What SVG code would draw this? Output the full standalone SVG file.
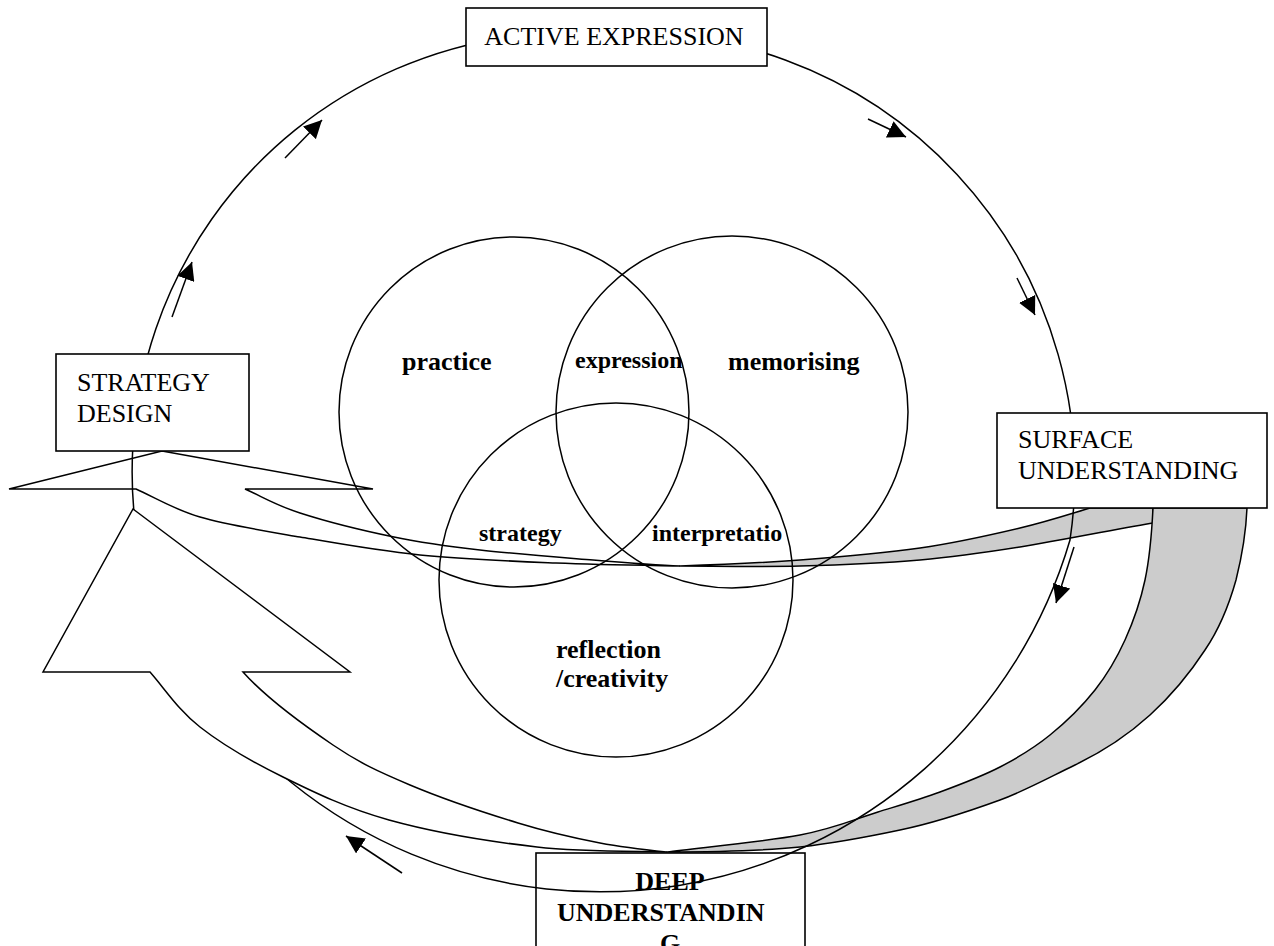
<svg xmlns="http://www.w3.org/2000/svg" width="1274" height="946" viewBox="0 0 1274 946">
<style>
.ln{fill:none;stroke:#000;stroke-width:1.5;stroke-linejoin:miter}
.box{fill:#fff;stroke:#000;stroke-width:1.6}
.grey{fill:#cccccc;stroke:#000;stroke-width:1.5;stroke-linejoin:round}
.white{fill:#fff;stroke:#000;stroke-width:1.5;stroke-linejoin:miter}
.lbl{font-family:"Liberation Serif","Times New Roman",serif;font-size:26px;fill:#000}
.b{font-weight:bold}
.s{font-size:24px}
</style>
<defs>
<marker id="ah" markerUnits="userSpaceOnUse" markerWidth="18" markerHeight="18" refX="18" refY="9" orient="auto" viewBox="0 0 18 18">
<path d="M0,0 L18,9 L0,18 Z" fill="#000"/>
</marker>
</defs>
<rect width="1274" height="946" fill="#fff"/>

<g id="deep-understanding">
<rect class="box" x="536" y="853" width="269" height="110"/>
</g>

<g id="connectors">
<!-- upper curved arrow (to strategy design) -->
<path class="ln" d="M162,451 L373,489 L245,489 C263,497 275.2,505 300,513 C324.8,521 364,530.8 394,537 C424,543.2 446.8,546.2 480,550 C513.2,553.8 559.7,557.3 593,560 C626.3,562.7 655,565 680,566 C655,565.5 599.3,564.8 556,563 C512.7,561.2 462.7,559.3 420,555 C377.3,550.7 336.7,543.3 300,537 C263.3,530.7 227.3,525 200,517 C172.7,509 154,497 136,489 L9,489 Z"/>
<path class="grey" d="M680,566 C710,565 760,563 800,560 C840,557 883.3,553.3 920,548 C956.7,542.7 991.7,534.7 1020,528 C1048.3,521.3 1070,514 1090,508 L1153,508 L1153,523 C1128,527 1058.8,540.8 1020,547 C981.2,553.2 956.7,556.8 920,560 C883.3,563.2 840,565 800,566 C760,567 710,566 680,566 Z"/>
<!-- lower big curved arrow: back side -->
<path class="grey" d="M667,852 C697,848 764.8,841.7 800,835 C835.2,828.3 854.7,819.2 878,812 C901.3,804.8 919.7,799.5 940,792 C960.3,784.5 981.7,776.5 1000,767 C1018.3,757.5 1034.2,747.8 1050,735 C1065.8,722.2 1082.5,705.8 1095,690 C1107.5,674.2 1116.7,658.3 1125,640 C1133.3,621.7 1140.3,602 1145,580 C1149.7,558 1152,528 1153,508 L1247,508 C1246,532 1242,556 1236,580 C1229,605 1220,628 1205,650 C1190,673 1172,695 1150,715 C1128,735 1102,752 1075,765 C1050,777 1027,790 1000,800 C967,812 934,823 900,830 C867,837 835,843 800,847 C761,851 697,852 667,852 Z"/>
</g>

<g id="practice"><circle class="ln" cx="514" cy="412" r="175"/></g>
<g id="memorising"><circle class="ln" cx="732" cy="412" r="176"/></g>
<g id="reflection"><circle class="ln" cx="616" cy="580" r="177"/></g>

<g id="cycle">
<path class="ln" d="M170,649 A438,438 0 0 1 601,34 A442,442 0 0 1 1070,540 A490,490 0 0 1 200,685"/>
<!-- lower big curved arrow: front side with head -->
<path class="white" d="M133,509 L350,672 L243,672 C268,700 305.2,726.2 333,745 C360.8,763.8 379.2,772 410,785 C440.8,798 486.3,813.3 518,823 C549.7,832.7 575.2,838.2 600,843 C624.8,847.8 647,850 667,852 C647,851 583.3,852.3 537,847 C490.7,841.7 431.3,831.7 389,820 C346.7,808.3 314.5,792.5 283,777 C251.5,761.5 222.2,744.5 200,727 C177.8,709.5 165,689 150,672 L43,672 Z"/>
<line class="ln" x1="285" y1="158" x2="322" y2="120" marker-end="url(#ah)"/>
<line class="ln" x1="868" y1="119" x2="906" y2="137" marker-end="url(#ah)"/>
<line class="ln" x1="172" y1="317" x2="192" y2="262" marker-end="url(#ah)"/>
<line class="ln" x1="1017" y1="278" x2="1035" y2="315" marker-end="url(#ah)"/>
<line class="ln" x1="1074" y1="547" x2="1056" y2="603" marker-end="url(#ah)"/>
<line class="ln" x1="402" y1="873" x2="346" y2="836" marker-end="url(#ah)"/>
</g>

<g id="active-expression">
<rect class="box" x="466" y="8" width="301" height="58"/>
<text class="lbl" x="614" y="45" text-anchor="middle">ACTIVE EXPRESSION</text>
</g>
<g id="strategy-design">
<rect class="box" x="56" y="354" width="193" height="97"/>
<text class="lbl" x="77" y="391">STRATEGY</text>
<text class="lbl" x="77" y="422">DESIGN</text>
</g>
<g id="surface-understanding">
<rect class="box" x="997" y="413" width="270" height="95"/>
<text class="lbl" x="1018" y="448">SURFACE</text>
<text class="lbl" x="1018" y="479">UNDERSTANDING</text>
</g>

<g id="labels">
<text class="lbl b" x="402" y="370">practice</text>
<text class="lbl b s" x="575" y="368">expression</text>
<text class="lbl b" x="728" y="370">memorising</text>
<text class="lbl b s" x="479" y="541">strategy</text>
<text class="lbl b s" x="652" y="541">interpretatio</text>
<text class="lbl b" x="556" y="658">reflection</text>
<text class="lbl b" x="556" y="687">/creativity</text>
</g>
<g id="deep-understanding-label">
<text class="lbl b" x="670" y="890" text-anchor="middle">DEEP</text>
<text class="lbl b" x="557" y="921">UNDERSTANDIN</text>
<text class="lbl b" x="670" y="952" text-anchor="middle">G</text>
</g>
</svg>
